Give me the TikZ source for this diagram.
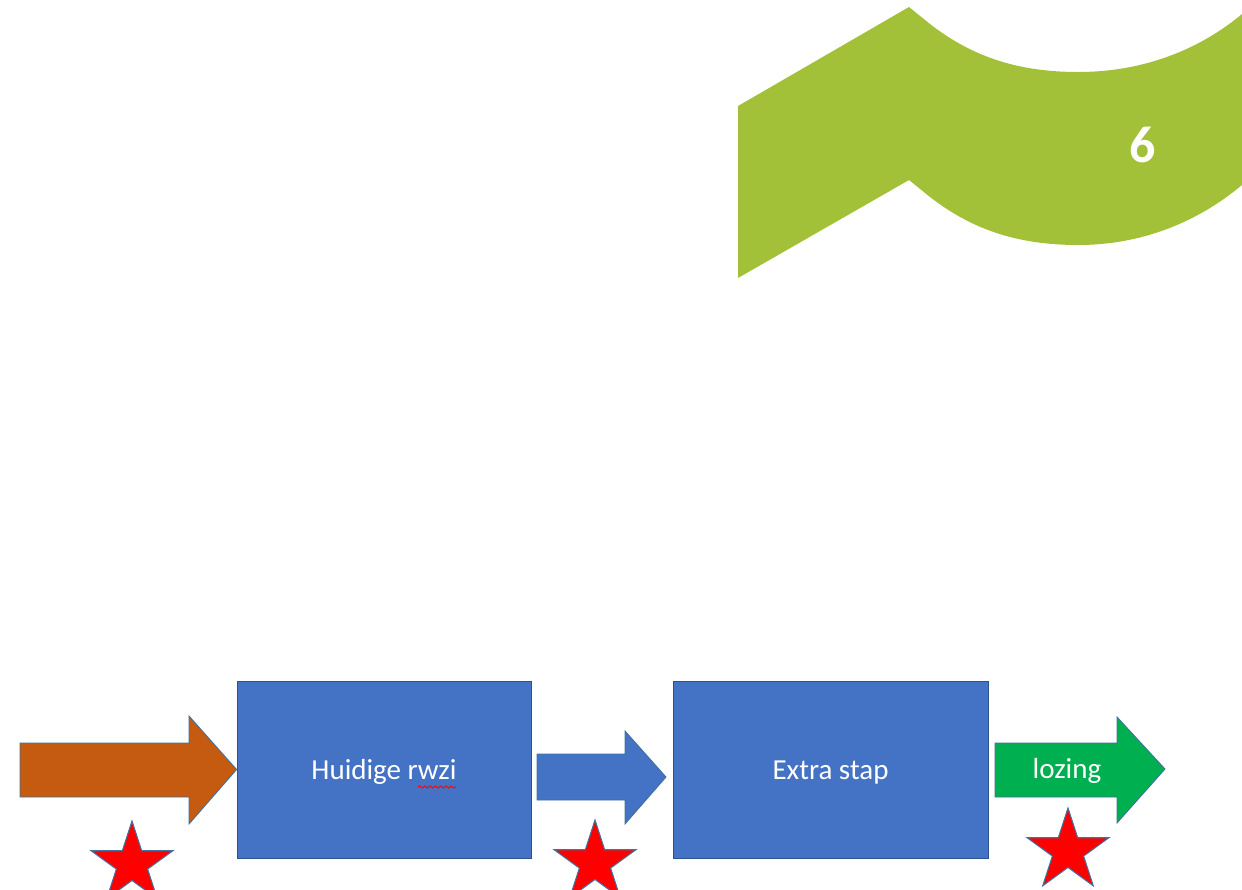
\documentclass[tikz,border=0pt]{standalone}
\usepackage{fontspec}
\setmainfont{Carlito}
\usetikzlibrary{shapes.geometric, positioning, calc, decorations.pathmorphing}
\definecolor{BannerGreen}{RGB}{162,193,57}
\definecolor{BoxBlue}{RGB}{68,114,196}
\definecolor{BoxEdge}{RGB}{47,82,143}
\definecolor{InflowOrange}{RGB}{197,90,17}
\definecolor{OutflowGreen}{RGB}{0,176,80}
\definecolor{ArrowEdge}{RGB}{65,113,156}
\definecolor{StarRed}{RGB}{255,0,0}

\begin{document}
\begin{tikzpicture}[x=0.02cm,y=-0.02cm,
    flowtext/.style={text=white,font=\fontsize{16.5}{20}\selectfont,
      text height=13.2pt,text depth=2pt},
    procbox/.style={flowtext,draw=BoxEdge,fill=BoxBlue,line width=0.5pt,minimum height=3.54cm},
    blockarrow/.style={draw=ArrowEdge,line width=0.5pt,line join=miter},
    redstar/.style={star,star points=5,star point ratio=2.618,minimum size=1.72cm,
      inner sep=0pt,fill=StarRed,draw=ArrowEdge,line width=0.6pt},
    spellmark/.style={draw=red,line width=0.5pt,decorate,
      decoration={snake,segment length=3,amplitude=0.6}}]
  \useasboundingbox (0,0) rectangle (1242,890);
        % Banner with the page number
        \fill[BannerGreen] (738,106) -- (909,7) -- (930,24)
          .. controls (970,55) and (1015,72) .. (1078,72)
          .. controls (1150,72) and (1205,45) .. (1242,14)
          -- (1242,185)
          .. controls (1205,216) and (1150,245) .. (1078,245)
          .. controls (1015,245) and (970,228) .. (930,197)
          -- (909,180) -- (738,278) -- cycle;
        \node[text=white,font=\fontsize{29.5}{32}\selectfont\bfseries] (pagenr) at (1143,145) {6};
        % Process boxes
        \node[procbox,minimum width=5.88cm] (rwzi) at (384,769.5) {Huidige rwzi};
        \node[procbox,minimum width=6.3cm] (extra) at (830.5,769.5) {Extra stap};
        \draw[spellmark] (418,787) -- (456,787);
        % Flows as block arrows
        \draw[blockarrow,fill=InflowOrange] (20,743) -- (189,743) -- (189,716)
          -- (rwzi.west) -- (189,824) -- (189,797) -- (20,797) -- cycle;
        \draw[blockarrow,fill=BoxBlue] (537,754) -- (625,754) -- (625,731)
          -- (666,777) -- (625,824) -- (625,800) -- (537,800) -- cycle;
        \draw[blockarrow,fill=OutflowGreen] (995,743) -- (1117,743) -- (1117,717)
          -- (1165,769) -- (1117,823) -- (1117,797) -- (995,797) -- cycle;
        \node[flowtext] (lozing) at (1067,769) {lozing};
        % Stars
        \node[redstar] (star1) at (132,864) {};
        \node[redstar] (star2) at (595,863) {};
        \node[redstar] (star3) at (1068,851) {};
\end{tikzpicture}
\end{document}
